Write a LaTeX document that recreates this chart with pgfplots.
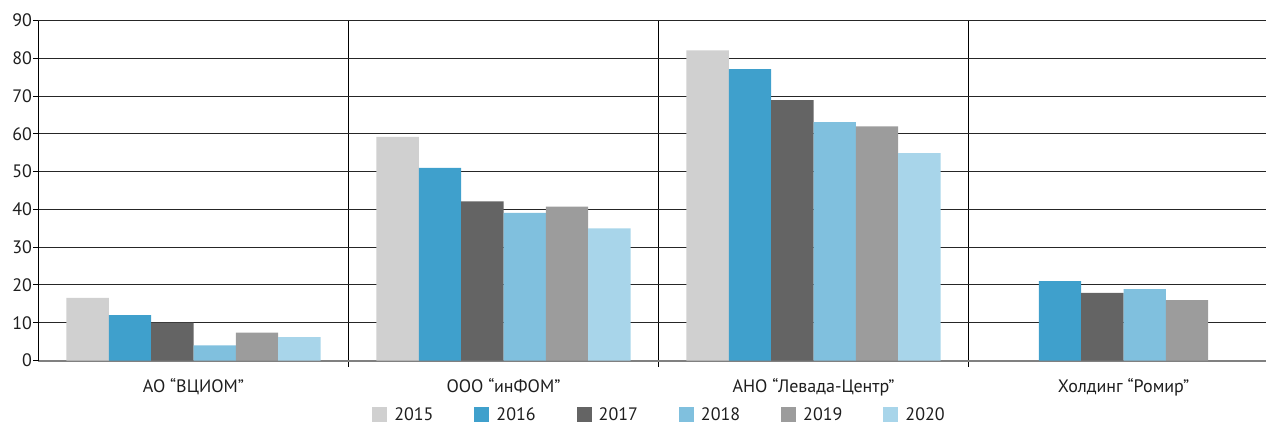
\documentclass[border=0pt]{standalone}
\usepackage{pgfplots}
\pgfplotsset{compat=1.18}
\usepackage{fontspec}
\setmainfont{PT Sans}
\definecolor{c15}{HTML}{D0D0D0}
\definecolor{c16}{HTML}{3FA0CC}
\definecolor{c17}{HTML}{646464}
\definecolor{c18}{HTML}{80C0DE}
\definecolor{c19}{HTML}{9C9C9C}
\definecolor{c20}{HTML}{A8D5EA}
\definecolor{txt}{HTML}{1E1E1E}
\newcommand{\ff}{\fontsize{18}{21}\selectfont}
\begin{document}
\begin{tikzpicture}
\begin{axis}[
  at={(0pt,0pt)}, anchor=south west,
  scale only axis, width=1240pt, height=340pt,
  xmin=-0.5, xmax=3.5, ymin=0, ymax=90,
  ybar=0pt, bar width=0.1366,
  axis x line=bottom, axis y line=left,
  x axis line style={-, draw=gray, line width=2pt},
  y axis line style={-, draw=black, line width=1pt},
  xtick={0,1,2,3},
  xticklabels={АО “ВЦИОМ”, ООО “инФОМ”, АНО “Левада-Центр”, Холдинг “Ромир”},
  minor xtick={0.5,1.5,2.5,3.5},
  xminorgrids, minor x grid style={draw=black, line width=1pt},
  major x tick style={draw=none},
  minor x tick style={draw=black, line width=1pt},
  minor tick length=6pt, major tick length=5pt, tick align=outside,
  ytick={0,10,...,90},
  ymajorgrids, major y grid style={draw=black!85, line width=1pt},
  major y tick style={draw=black, line width=1pt},
  /pgf/number format/assume math mode=true,
  tick label style={font=\ff, text=txt},
  xticklabel style={yshift=-9pt},
  yticklabel style={xshift=2pt},
  legend columns=6,
  legend style={at={(0.269,-0.1588)}, anchor=west, draw=none, fill=none,
    inner sep=0pt, font=\ff, text=txt, nodes={inner sep=0pt},
    /tikz/every odd column/.append style={column sep=7pt},
    /tikz/every even column/.append style={column sep=41pt}},
  legend image code/.code={\fill[#1,draw=none] (0pt,-7.5pt) rectangle (15pt,7.5pt);},
]
\addplot[fill=c15, draw=none] coordinates {(0,16.6) (1,59.2) (2,82.1)};
\addplot[fill=c16, draw=none] coordinates {(0,12.0) (1,51.0) (2,77.1) (3,21.0)};
\addplot[fill=c17, draw=none] coordinates {(0,10.0) (1,42.1) (2,68.9) (3,17.9)};
\addplot[fill=c18, draw=none] coordinates {(0,4.0) (1,39.1) (2,63.1) (3,18.9)};
\addplot[fill=c19, draw=none] coordinates {(0,7.4) (1,40.7) (2,62.0) (3,16.0)};
\addplot[fill=c20, draw=none] coordinates {(0,6.2) (1,35.0) (2,54.9)};
\legend{2015,2016,2017,2018,2019,2020}
\end{axis}
\pgfresetboundingbox
\path[use as bounding box] (-38.5pt,-63.5pt) rectangle (1227.5pt,360.5pt);
\end{tikzpicture}
\end{document}
